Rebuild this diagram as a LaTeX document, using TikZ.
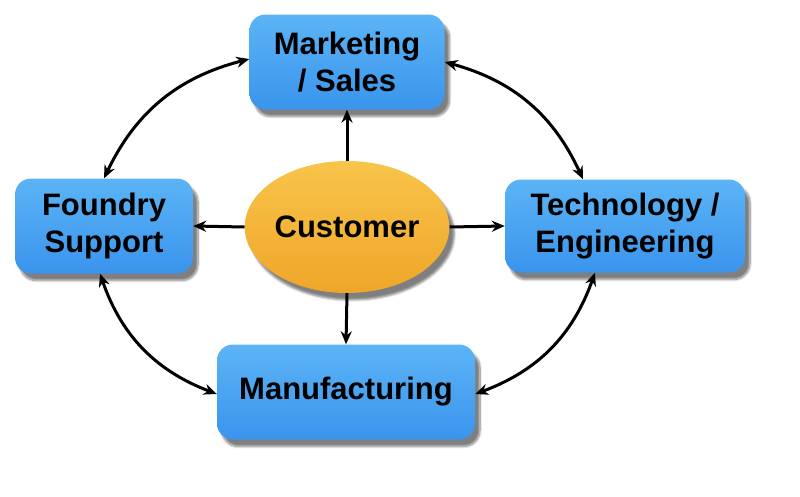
\documentclass[tikz,border=0pt]{standalone}
\usepackage{fontspec}
\setmainfont{Liberation Sans}
\usetikzlibrary{shapes.geometric,arrows.meta,shadows.blur}
\begin{document}
\begin{tikzpicture}[x=1pt,y=-1pt,
  box/.style={rounded corners=16pt,draw=none,top color=bl1,bottom color=bl2,
    blur shadow={shadow xshift=5pt,shadow yshift=-7pt,shadow blur steps=10,shadow opacity=50},
    font=\bfseries\fontsize{31}{37}\selectfont,align=center,text=black},
  arr/.style={-{Stealth[length=13pt,width=11pt]},line width=3pt},
  darr/.style={{Stealth[length=13pt,width=11pt]}-{Stealth[length=13pt,width=11pt]},line width=3pt}]
\definecolor{bl1}{HTML}{5CB4F6}
\definecolor{bl2}{HTML}{3A94EC}
\definecolor{or1}{HTML}{F8C44A}
\definecolor{or2}{HTML}{EFA62A}
\useasboundingbox (0,0) rectangle (800,496);
\node[box,minimum width=195pt,minimum height=95pt] (mk) at (347,62) {Marketing\\/ Sales};
\node[box,minimum width=178pt,minimum height=95pt] (fs) at (104,226) {Foundry\\Support};
\node[box,minimum width=240pt,minimum height=93pt] (te) at (625,226) {Technology /\\Engineering};
\node[box,minimum width=258pt,minimum height=95pt] (mf) at (346,392) {Manufacturing};
\node[ellipse,inner sep=0pt,minimum width=200pt,minimum height=132pt,top color=or1,bottom color=or2,
  blur shadow={shadow xshift=5pt,shadow yshift=-7pt,shadow opacity=50},font=\bfseries\fontsize{31}{37}\selectfont] (cu) at (347,227) {Customer};
\draw[arr] (cu.north) -- (mk.south);
\draw[arr] (cu.south) -- (mf.north);
\draw[arr] (cu.west) -- (fs.east);
\draw[arr] (cu.east) -- (te.west);
\draw[darr] (fs.north) to[bend left=25] ([yshift=3pt]mk.west);
\draw[darr] (mk.east) to[bend left=25] ([xshift=-42pt]te.north);
\draw[darr] ([xshift=-30pt]te.south) to[bend left=25] ([yshift=-2pt]mf.east);
\draw[darr] ([yshift=-2pt]mf.west) to[bend left=25] ([xshift=-4pt]fs.south);
\end{tikzpicture}
\end{document}
